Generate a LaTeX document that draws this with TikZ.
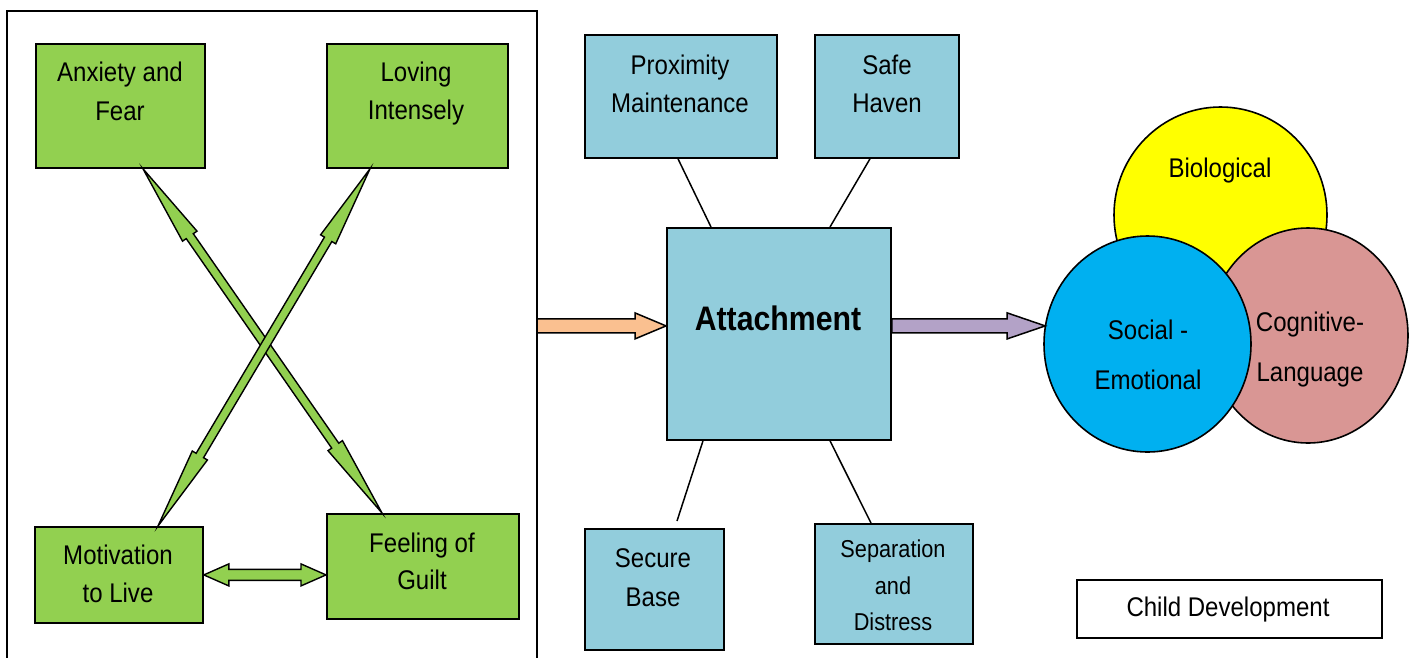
\documentclass[tikz,border=0pt]{standalone}
\usepackage{fontspec}
\setmainfont{Liberation Sans}[FakeStretch=0.89]
\usetikzlibrary{calc,shapes.geometric}
\definecolor{gfill}{HTML}{92D050}
\definecolor{bfill}{HTML}{92CDDC}
\definecolor{yfill}{HTML}{FFFF00}
\definecolor{cfill}{HTML}{00B0F0}
\definecolor{pfill}{HTML}{D99694}
\definecolor{ofill}{HTML}{FAC090}
\definecolor{vfill}{HTML}{B3A2C7}
% double block arrow: #1 style, #2 A, #3 B, #4 shaft half width, #5 head half width, #6 head length
\newcommand\dblockarrow[6]{%
  \filldraw[#1] (#2)
   -- ($(#2)!#6pt!(#3)!#5pt!90:(#3)$)
   -- ($(#2)!#6pt!(#3)!#4pt!90:(#3)$)
   -- ($(#3)!#6pt!(#2)!#4pt!-90:(#2)$)
   -- ($(#3)!#6pt!(#2)!#5pt!-90:(#2)$)
   -- (#3)
   -- ($(#3)!#6pt!(#2)!#5pt!90:(#2)$)
   -- ($(#3)!#6pt!(#2)!#4pt!90:(#2)$)
   -- ($(#2)!#6pt!(#3)!#4pt!-90:(#3)$)
   -- ($(#2)!#6pt!(#3)!#5pt!-90:(#3)$)
   -- cycle;}
% single block arrow from #2 (tail) to #3 (tip)
\newcommand\sblockarrow[6]{%
  \filldraw[#1] ($(#2)!#4pt!90:(#3)$)
   -- ($(#3)!#6pt!(#2)!#4pt!-90:(#2)$)
   -- ($(#3)!#6pt!(#2)!#5pt!-90:(#2)$)
   -- (#3)
   -- ($(#3)!#6pt!(#2)!#5pt!90:(#2)$)
   -- ($(#3)!#6pt!(#2)!#4pt!90:(#2)$)
   -- ($(#2)!#4pt!-90:(#3)$)
   -- cycle;}
\begin{document}
\begin{tikzpicture}[x=1pt,y=-1pt,line join=miter]
\tikzset{
  gbox/.style={draw=black,line width=1.8pt,fill=gfill,rectangle,inner sep=0pt,anchor=north west},
  bbox/.style={draw=black,line width=1.8pt,fill=bfill,rectangle,inner sep=0pt,anchor=north west},
  wbox/.style={draw=black,line width=1.6pt,fill=white,rectangle,inner sep=0pt,anchor=north west},
  txt/.style={align=center,inner sep=0pt,font=\fontsize{27}{38.5}\selectfont},
  conn/.style={line width=1.5pt},
  garrow/.style={draw=black,line width=1.4pt,fill=gfill,line join=miter},
  circ/.style={draw=black,line width=1.6pt,ellipse,inner sep=0pt},
}
\useasboundingbox (0,0) rectangle (1416,657);
% frame
\draw[line width=1.5pt] (7,662) -- (7,11) -- (537,11) -- (537,662);
\coordinate (framer) at (537,11);

% green boxes
\node[gbox,minimum width=169pt,minimum height=124pt] (af) at (35,43) {};
\node[gbox,minimum width=181pt,minimum height=124pt] (li) at (326,43) {};
\node[gbox,minimum width=168pt,minimum height=96pt] (ml) at (34,526) {};
\node[gbox,minimum width=192pt,minimum height=105pt] (fg) at (326,513) {};
\node[txt] (af-t) at (120,91.5) {Anxiety and\\Fear};
\node[txt] (li-t) at (416,93.5) {Loving\\Intensely};
\node[txt] (ml-t) at (118,574) {Motivation\\to Live};
\node[txt,font=\fontsize{27}{37}\selectfont] (fg-t) at (422,561) {Feeling of\\Guilt};

% green arrows
\coordinate (d1a) at ($(af.south west)+(108,0)$);
\coordinate (d1b) at ($(fg.north west)+(56,0)$);
\coordinate (d2a) at ($(li.south west)+(44,0)$);
\coordinate (d2b) at ($(ml.north west)+(124,0)$);
\coordinate (h1a) at (ml.east);
\coordinate (h1b) at (ml.east -| fg.west);
\dblockarrow{garrow}{d1a}{d1b}{4.3}{8.8}{82}
\dblockarrow{garrow}{d2a}{d2b}{4.3}{8.8}{82}
\dblockarrow{garrow}{h1a}{h1b}{5.5}{11}{25}

% blue boxes
\node[bbox,minimum width=192pt,minimum height=123pt] (pm) at (584,34) {};
\node[bbox,minimum width=144pt,minimum height=123pt] (sh) at (814,34) {};
\node[bbox,minimum width=224pt,minimum height=212pt] (att) at (666,227) {};
\node[bbox,minimum width=139pt,minimum height=121pt] (sb) at (584,528) {};
\node[bbox,minimum width=158pt,minimum height=120pt] (sd) at (814,523) {};
\node[txt] (pm-t) at (680,84) {Proximity\\Maintenance};
\node[txt] (sh-t) at (887,84) {Safe\\Haven};
\node[txt,font=\fontsize{34}{40}\selectfont\bfseries] (att-t) at (778,318) {Attachment};
\node[txt] (sb-t) at (653,577.5) {Secure\\Base};
\node[txt,font=\fontsize{24.4}{36.5}\selectfont] (sd-t) at (893,585.5) {Separation\\and\\Distress};

% connectors
\draw[conn] ($(pm.south west)+(94,0)$) -- ($(att.north west)+(45,0)$);
\draw[conn] ($(sh.south west)+(56,0)$) -- ($(att.north west)+(164,0)$);
\coordinate (sbend) at ($(sb.north west)+(93,-7)$);
\draw[conn] ($(att.south west)+(37,0)$) -- (sbend);
\draw[conn] ($(att.south west)+(164,0)$) -- ($(sd.north west)+(57,0)$);

% circles
\node[circ,fill=yfill,minimum width=213pt,minimum height=216pt] (bio) at (1220.5,215) {};
\node[circ,fill=pfill,minimum width=200pt,minimum height=215pt] (cl) at (1308,335.5) {};
\node[circ,fill=cfill,minimum width=207pt,minimum height=216pt] (se) at (1147.5,344) {};
\node[txt] (bio-t) at (1220,171) {Biological};
\node[txt,font=\fontsize{27}{50}\selectfont] (se-t) at (1148,355) {Social -\\Emotional};
\node[txt,font=\fontsize{27}{50}\selectfont] (cl-t) at (1310,350) {Cognitive-\\Language};

% big arrows
\coordinate (otip) at ($(att.west)+(0,-8)$);
\coordinate (otail) at (otip -| framer);
\sblockarrow{draw=black,line width=1.5pt,fill=ofill}{otail}{otip}{7}{13}{31}
\coordinate (vtail) at ($(att.east)+(0,-8)$);
\coordinate (vtip) at ($(vtail -| se.west)+(2,0)$);
\sblockarrow{draw=black,line width=1.5pt,fill=vfill}{vtail}{vtip}{7}{13}{38}

% child development
\node[wbox,minimum width=305pt,minimum height=58pt] (cd) at (1076,579) {};
\node[txt] (cd-t) at (1228,610) {Child Development};
\end{tikzpicture}
\end{document}
